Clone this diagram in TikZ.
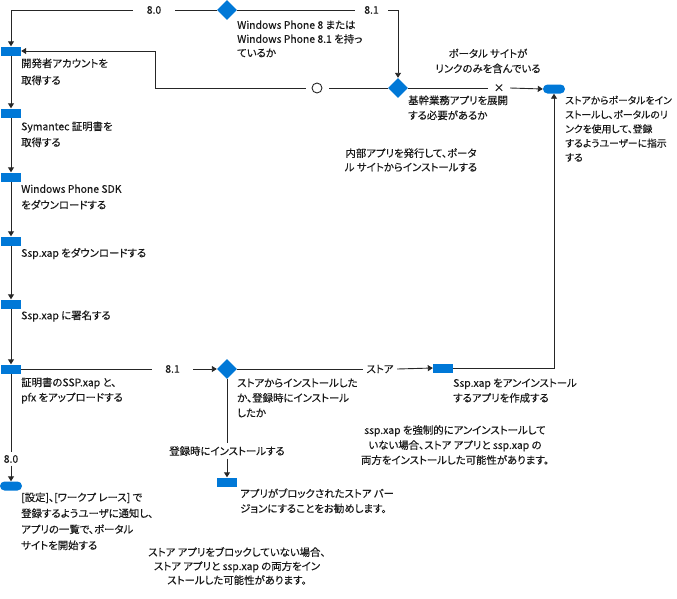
\documentclass[tikz,border=0pt]{standalone}
\usepackage{fontspec}
\setmainfont{Noto Sans CJK JP}[FakeBold=0.3, RawFeature=+palt]
\usetikzlibrary{shapes.geometric,arrows.meta}
\definecolor{blu}{HTML}{0078D7}
\definecolor{ln}{HTML}{262626}
\begin{document}
\begin{tikzpicture}[x=1pt,y=-1pt,
  line/.style={draw=ln, line width=0.9pt},
  arr/.style={line, -{Triangle[length=5pt,width=6pt]}},
  box/.style={fill=blu, minimum width=20pt, minimum height=9pt, inner sep=0pt},
  term/.style={fill=blu, rounded corners=4.5pt, minimum width=22pt, minimum height=9pt, inner sep=0pt},
  dia/.style={diamond, fill=blu, minimum width=20pt, minimum height=20pt, inner sep=0pt},
  txt/.style={font=\fontsize{10.4}{#1}\selectfont, text=black!90, inner sep=0pt, align=left, anchor=north west},
  txt/.default=15,
  ctxt/.style={font=\fontsize{10.4}{#1}\selectfont, text=black!90, inner sep=0pt, align=center, anchor=center},
  ctxt/.default=15,
  lab/.style={font=\fontsize{10.4}{15}\selectfont, text=black!90, inner sep=0pt, anchor=center},
]
\useasboundingbox (0,0) rectangle (677,598);

% shapes
\node[dia] (D1) at (227,10) {};
\node[dia] (D2) at (398,88) {};
\node[dia] (D3) at (227,369) {};
\node[box] (R1) at (11,51) {};
\node[box] (R2) at (11,113) {};
\node[box] (R3) at (11,177) {};
\node[box] (R4) at (11,241) {};
\node[box] (R5) at (11,304) {};
\node[box] (R6) at (11,369) {};
\node[box] (R7) at (443,368) {};
\node[box] (R8) at (227,482) {};
\node[term] (T1) at (554,89) {};
\node[term] (T2) at (11,486) {};
\coordinate (c1) at (155,51);

% edge labels (gaps)
\node[lab, minimum width=42pt] (l80a) at (154,10) {8.0};
\node[lab, minimum width=33pt] (l81a) at (371.5,10) {8.1};
\node[circle, draw=ln, line width=0.9pt, minimum size=10pt, inner sep=0pt, outer sep=6.5pt] (lO) at (317,88) {};
\node[lab, minimum width=22pt] (lX) at (499,88) {×};
\node[lab, minimum width=41pt] (l81b) at (172.5,369) {8.1};
\node[lab, minimum width=34pt] (lSt) at (380,369) {ストア};
\node[lab, minimum height=15pt] (lReg) at (227,451) {登録時にインストールする};
\node[lab, minimum height=13pt] (l80c) at (11,459) {8.0};

% connectors
\draw[line] (D1.west) -- (l80a.east);
\draw[arr] (l80a.west) -| (R1.north);
\draw[line] (D1.east) -- (l81a.west);
\draw[arr] (l81a.east) -| (D2.north);
\draw[line] (D2.west) -- (lO.east);
\draw[arr] (lO.west) -| (c1) -- (R1.east);
\draw[line] (D2.east) -- (lX.west);
\draw[arr] (lX.east) -- (T1.west);
\draw[arr] (R1.south) -- (R2.north);
\draw[arr] (R2.south) -- (R3.north);
\draw[arr] (R3.south) -- (R4.north);
\draw[arr] (R4.south) -- (R5.north);
\draw[arr] (R5.south) -- (R6.north);
\draw[line] (R6.east) -- (l81b.west);
\draw[arr] (l81b.east) -- (D3.west);
\draw[line] (D3.east) -- (lSt.west);
\draw[arr] (lSt.east) -- (R7.west);
\draw[arr] (R7.east) -| (T1.south);
\draw[line] (D3.south) -- (lReg.north);
\draw[arr] (lReg.south) -- (R8.north);
\draw[line] (R6.south) -- (l80c.north);
\draw[arr] (l80c.south) -- (T2.north);

% texts
\node[txt=14] (tD1) at (237,20.3) {Windows Phone 8 または\\Windows Phone 8.1 を持っ\\ているか};
\node[txt=17] (tR1) at (21,58.3) {開発者アカウントを\\取得する};
\node[txt=16] (tR2) at (21,121.3) {Symantec 証明書を\\取得する};
\node[txt=16] (tR3) at (21,184.3) {Windows Phone SDK\\をダウンロードする};
\node[txt] (tR4) at (21,247.8) {Ssp.xap をダウンロードする};
\node[txt] (tR5) at (21,310.3) {Ssp.xap に署名する};
\node[txt] (tR6) at (21,377.3) {証明書のSSP.xap と、\\pfx をアップロードする};
\node[txt=16] (tT2) at (21,492.3) {[設定]、[ワークプ レース] で\\登録するようユーザに通知し、\\アプリの一覧で、ポータル\\サイトを開始する};
\node[txt] (tD2) at (408,95.3) {基幹業務アプリを展開\\する必要があるか};
\node[ctxt] (tPo) at (488,61) {ポータル サイトが\\リンクのみを含んでいる};
\node[ctxt=14] (tIn) at (411,160) {内部アプリを発行して、ポータ\\ル サイトからインストールする};
\node[txt=14.3, font=\fontsize{9.8}{14.3}\selectfont] (tT1) at (565,95.5) {ストアからポータルをイン\\ストールし、ポータルのリ\\ンクを使用して、登録\\するようユーザーに指示\\する};
\node[txt] (tD3) at (237,378.3) {ストアからインストールした\\か、登録時にインストール\\したか};
\node[txt] (tR7) at (453,378.3) {Ssp.xap をアンインストール\\するアプリを作成する};
\node[ctxt] (tN1) at (455,445) {ssp.xap を強制的にアンインストールして\\いない場合、ストア アプリと ssp.xap の\\両方をインストールした可能性があります。};
\node[txt] (tR8) at (240,488.3) {アプリがブロックされたストア バー\\ジョンにすることをお勧めします。};
\node[ctxt=14] (tN2) at (237,566) {ストア アプリをブロックしていない場合、\\ストア アプリと ssp.xap の両方をイン\\ストールした可能性があります。};
\end{tikzpicture}
\end{document}
